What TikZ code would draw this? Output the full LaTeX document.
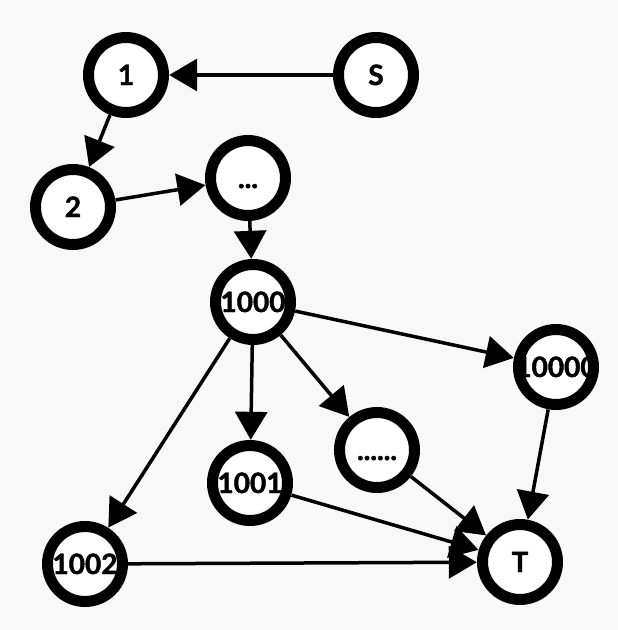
\documentclass[tikz,border=0pt]{standalone}
\usepackage{fontspec}
\setmainfont{Lato}[BoldFeatures={FakeBold=1.6}]
\usetikzlibrary{arrows.meta}
\definecolor{bgc}{HTML}{F8F8F8}
\begin{document}
\begin{tikzpicture}[x=1pt,y=-1pt,
  vert/.style={circle,fill=white,minimum size=86pt,inner sep=0pt,
    font=\fontsize{28}{28}\selectfont\bfseries,text height=20pt,text depth=0pt},
  ring/.style={line width=11pt,draw=black},
  edge/.style={line width=3.5pt,-{Triangle[length=28pt,width=32pt]}}]
\fill[bgc] (0,0) rectangle (618,630);
\useasboundingbox (0,0) rectangle (618,630);
\node[vert] (n1) at (126,75) {1};
\node[vert] (s) at (376,75) {S};
\node[vert] (n2) at (73,207) {2};
\node[vert] (d3) at (248,178) {...};
\node[vert] (n1000) at (253,302) {1000};
\node[vert] (n10000) at (556,367) {10000};
\node[vert] (d6) at (377,450) {......};
\node[vert] (n1001) at (250,483) {1001};
\node[vert] (n1002) at (85,564) {1002};
\node[vert] (t) at (520,562) {T};
\foreach \n in {n1,s,n2,d3,n1000,n10000,d6,n1001,n1002,t}
  \draw[ring] (\n.center) circle[radius=37.5pt];
\draw[edge] (s) -- (n1);
\draw[edge] (n1) -- (n2);
\draw[edge] (n2) -- (d3);
\draw[edge] (d3) -- (n1000);
\draw[edge] (n1000) -- (n10000);
\draw[edge] (n1000) -- (n1001);
\draw[edge] (n1000) -- (d6);
\draw[edge] (n1000) -- (n1002);
\draw[edge] (n10000) -- (t);
\draw[edge] (d6) -- (t);
\draw[edge] (n1001) -- (t);
\draw[edge] (n1002) -- (t);
\end{tikzpicture}
\end{document}
